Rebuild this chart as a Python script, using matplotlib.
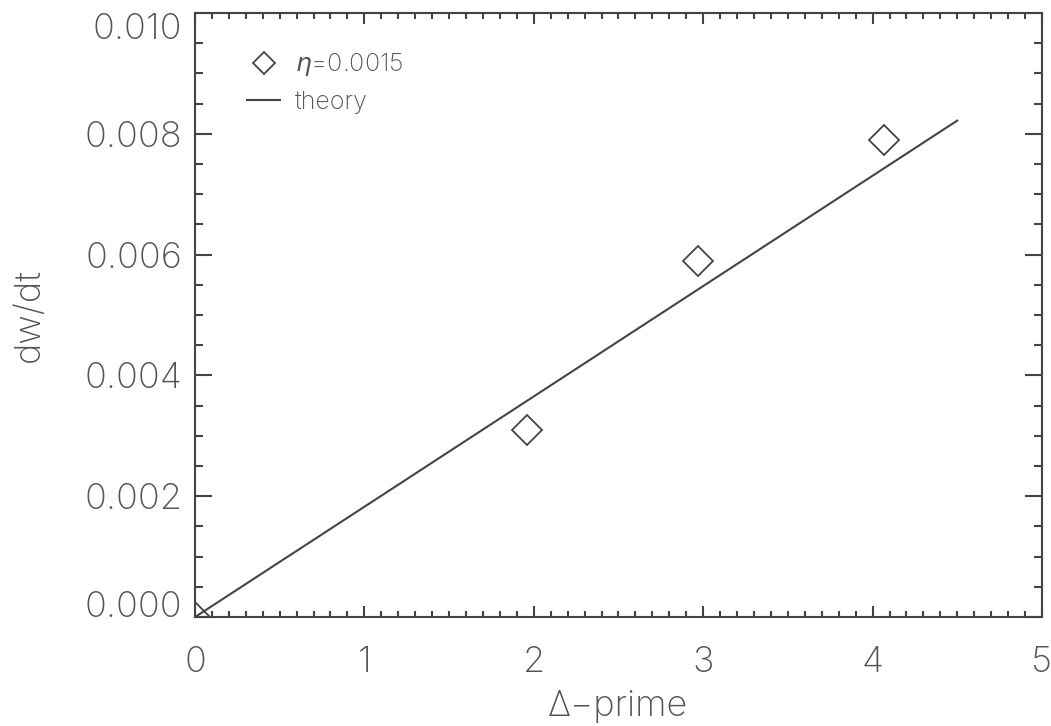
import matplotlib
matplotlib.use("Agg")
import matplotlib.pyplot as plt
from matplotlib.ticker import MultipleLocator

# Measured growth rate against Delta-prime
delta_prime = [0.0, 1.96, 2.97, 4.07]
dwdt = [0.0, 0.0031, 0.0059, 0.0079]

# Linear theory prediction
theory_x = [0.0, 4.5]
theory_y = [0.0, 0.00822]

plt.rcParams["font.family"] = ["Inter", "DejaVu Sans"]
plt.rcParams["font.weight"] = 200
plt.rcParams["mathtext.fontset"] = "dejavusans"

ink = "#444444"
text_col = "#555555"

fig = plt.figure(figsize=(10.51, 7.26), dpi=100)
ax = fig.add_axes([0.1855, 0.150, 0.8059, 0.832])

ax.plot(delta_prime, dwdt, linestyle="none", marker="D", markersize=15,
        markerfacecolor="none", markeredgecolor=ink, markeredgewidth=1.3,
        label=r"$\eta$=0.0015")
ax.plot(theory_x, theory_y, color=ink, linewidth=1.5, label="theory")

ax.set_xlim(0, 5)
ax.set_ylim(0, 0.010)
ax.xaxis.set_major_locator(MultipleLocator(1))
ax.xaxis.set_minor_locator(MultipleLocator(0.1))
ax.yaxis.set_major_locator(MultipleLocator(0.002))
ax.yaxis.set_minor_locator(MultipleLocator(0.0005))
ax.yaxis.set_major_formatter(plt.FormatStrFormatter("%.3f"))

ax.tick_params(which="both", direction="in", top=True, right=True,
               colors=ink, labelcolor=text_col, labelsize=26, width=1.5)
ax.tick_params(axis="x", which="major", length=8, pad=21)
ax.tick_params(axis="x", which="minor", length=4.5)
ax.tick_params(axis="y", which="major", length=12.5, pad=9)
ax.tick_params(axis="y", which="minor", length=6)

for spine in ax.spines.values():
    spine.set_color(ink)
    spine.set_linewidth(1.5)

ax.set_xlabel("Δ−prime", fontsize=26, fontweight=200, color=text_col, labelpad=8)
ax.set_ylabel("dw/dt", fontsize=26, fontweight=200, color=text_col, labelpad=28)

leg = ax.legend(loc="upper left", frameon=False, fontsize=18,
                markerscale=0.77, handlelength=1.32, handletextpad=0.6,
                labelspacing=0.5, borderaxespad=0.6, bbox_to_anchor=(0.032, 0.978))
for t in leg.get_texts():
    t.set_color(text_col)

# keep the end labels of the y axis inside the frame
fig.canvas.draw()
ylo, yhi = ax.get_ylim()
for tick in ax.yaxis.get_major_ticks():
    if abs(tick.get_loc() - ylo) < 1e-9:
        tick.label1.set_verticalalignment("baseline")
    elif abs(tick.get_loc() - yhi) < 1e-9:
        tick.label1.set_verticalalignment("top")

fig.savefig("out.png", dpi=100)
